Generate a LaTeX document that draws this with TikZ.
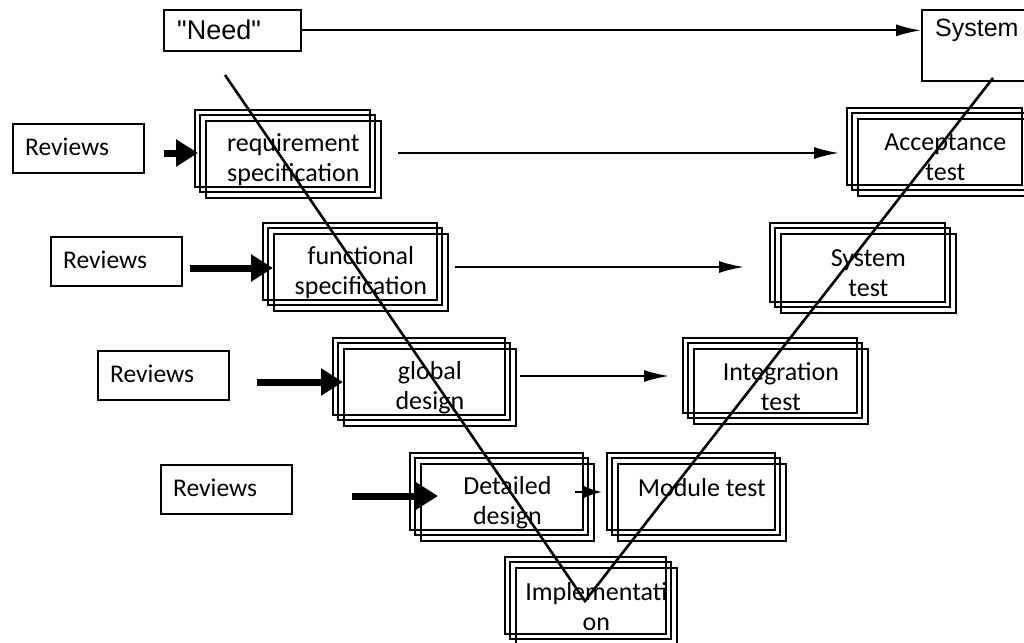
\documentclass[tikz,border=0pt]{standalone}
\usepackage{fontspec}
\setmainfont{Carlito}
\newfontfamily\arialf{Liberation Sans}
\usetikzlibrary{arrows.meta}
\tikzset{
  boxline/.style={draw=black, line width=1.7pt},
  frontbox/.style={boxline, inner sep=0pt, align=center, font=\fontsize{26}{30}\selectfont},
  revbox/.style={boxline, inner sep=0pt, minimum width=131pt, minimum height=49pt, anchor=north west},
  revtext/.style={font=\fontsize{25.5}{30}\selectfont, anchor=west, inner sep=0pt},
  thinarrow/.style={line width=2pt, -{Latex[length=25pt,width=12pt]}},
  thickarrow/.style={line width=7pt, -{Triangle[length=22pt,width=26pt]}},
  vline/.style={line width=2.6pt},
}
\newcommand\stackbox[6]{%
  \draw[boxline] (#2,#3) rectangle ++(#4,#5);
  \draw[boxline] (#2+5,#3+5) rectangle ++(#4,#5);
  \node[frontbox, minimum width=#4pt, minimum height=#5pt, anchor=north west] (#1) at (#2+10,#3+10) {#6};
}
\begin{document}
\begin{tikzpicture}[x=1pt,y=-1pt]
\useasboundingbox (0,0) rectangle (1024,642);
\clip (0,0) rectangle (1024,642);
\fill[white] (0,0) rectangle (1024,642);

% top boxes
\node[boxline, minimum width=137pt, minimum height=41pt, anchor=north west, inner sep=0pt] (need) at (163,9) {};
\node[font=\arialf\fontsize{27}{30}\selectfont, anchor=west, inner sep=0pt] (needtext) at (177,30) {"Need"};
\node[boxline, minimum width=120pt, minimum height=71pt, anchor=north west, inner sep=0pt] (system) at (921,9) {};
\node[font=\arialf\fontsize{25}{30}\selectfont, anchor=west, inner sep=0pt] (systemtext) at (935,30) {System};
\draw[thinarrow] (need.east) -- (system.west |- need.east);

% stacked boxes
\stackbox{req}{195}{110}{175}{77}{requirement\\specification}
\stackbox{func}{263}{223}{174}{77}{functional\\specification}
\stackbox{glob}{333}{338}{172}{77}{global\\design}
\stackbox{det}{410}{453}{173}{77}{Detailed\\design}
\stackbox{impl}{505}{557}{161}{77}{Implementati\\on}
\stackbox{mod}{607}{453}{168}{77}{Module test\\\mbox{}}
\stackbox{integ}{683}{338}{174}{75}{Integration\\test}
\stackbox{syst}{770}{223}{175}{79}{System\\test}
\stackbox{acc}{847}{108}{175}{77}{Acceptance\\test}

% reviews boxes
\node[revbox] (r1) at (12,123) {};
\node[revtext] (r1t) at (25,147) {Reviews};
\node[revbox] (r2) at (50,236) {};
\node[revtext] (r2t) at (63,260) {Reviews};
\node[revbox] (r3) at (97,350) {};
\node[revtext] (r3t) at (110,374) {Reviews};
\node[revbox] (r4) at (160,464) {};
\node[revtext] (r4t) at (173,488) {Reviews};

% thick review arrows
\coordinate (a1s) at (164,153);
\coordinate (a1e) at (198,153);
\draw[thickarrow] (a1s) -- (a1e);
\coordinate (a2s) at (190,268);
\draw[thickarrow] (a2s) -- (func.west |- a2s);
\coordinate (a3s) at (257,382);
\draw[thickarrow] (a3s) -- (glob.west |- a3s);
\coordinate (a4s) at (352,496);
\coordinate (a4e) at (438,496);
\draw[thickarrow] (a4s) -- (a4e);

% thin arrows left to right
\coordinate (t1s) at (398,153); \coordinate (t1e) at (839,153);
\draw[thinarrow] (t1s) -- (t1e);
\coordinate (t2s) at (455,267); \coordinate (t2e) at (744,267);
\draw[thinarrow] (t2s) -- (t2e);
\coordinate (t3s) at (520,376); \coordinate (t3e) at (669,376);
\draw[thinarrow] (t3s) -- (t3e);
\coordinate (t4s) at (575,492); \coordinate (t4e) at (602,492);
\draw[line width=2pt, -{Latex[length=18pt,width=12pt]}] (t4s) -- (t4e);

% V lines
\coordinate (vl) at (225,75);
\coordinate (vb) at (585,601);
\coordinate (vr) at (993,78);
\draw[vline, line join=miter] (vl) -- (vb) -- (vr);
\end{tikzpicture}
\end{document}
